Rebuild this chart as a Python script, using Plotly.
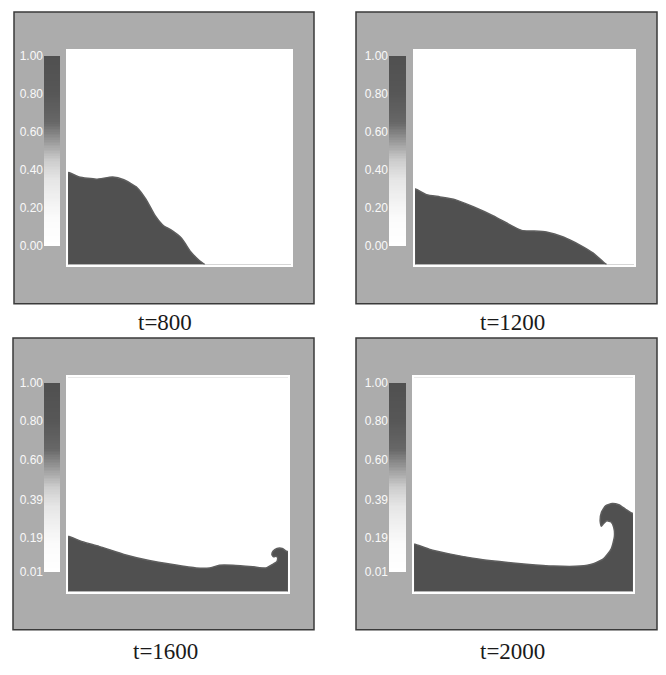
import plotly.graph_objects as go
import numpy as np

W, H = 666, 675

# ---------------- data ----------------
panel_titles = ["t=800", "t=1200", "t=1600", "t=2000"]

# free-surface outlines (fraction of tank width / height), fluid lies below
surf_x_t800 = [0.0, 0.0, 0.007, 0.05, 0.127, 0.20, 0.25, 0.31, 0.35, 0.39, 0.43, 0.46, 0.51, 0.55, 0.59, 0.614, 0.614]
surf_y_t800 = [0.0, 0.43, 0.43, 0.41, 0.40, 0.41, 0.397, 0.36, 0.305, 0.23, 0.18, 0.163, 0.122, 0.06, 0.018, 0.0, 0.0]

surf_x_t1200 = [0.0, 0.0, 0.005, 0.053, 0.114, 0.183, 0.266, 0.358, 0.434, 0.487, 0.540, 0.60, 0.677, 0.753, 0.814, 0.86, 0.875, 0.875]
surf_y_t1200 = [0.0, 0.353, 0.353, 0.327, 0.317, 0.304, 0.271, 0.228, 0.186, 0.160, 0.157, 0.152, 0.129, 0.091, 0.053, 0.012, 0.0, 0.0]

surf_x_t1600 = [0.0, 0.0, 0.005, 0.065, 0.141, 0.263, 0.369, 0.476, 0.582, 0.643, 0.688, 0.749, 0.84, 0.90,
                0.929, 0.950, 0.953, 0.945, 0.935, 0.927, 0.932, 0.950, 0.974, 0.995, 1.0, 1.0, 1.0]
surf_y_t1600 = [0.0, 0.257, 0.257, 0.233, 0.211, 0.171, 0.145, 0.126, 0.110, 0.110, 0.123, 0.123, 0.116, 0.110,
                0.126, 0.141, 0.158, 0.165, 0.162, 0.172, 0.188, 0.201, 0.201, 0.187, 0.187, 0.0, 0.0]

surf_x_t2000 = [0.0, 0.0, 0.005, 0.069, 0.161, 0.268, 0.39, 0.513, 0.636, 0.758, 0.819, 0.865, 0.900, 0.915,
                0.912, 0.900, 0.880, 0.866, 0.855, 0.850, 0.856, 0.875, 0.905, 0.935, 0.965, 0.99, 1.0, 1.0, 1.0]
surf_y_t2000 = [0.0, 0.221, 0.221, 0.198, 0.176, 0.156, 0.140, 0.128, 0.119, 0.119, 0.130, 0.153, 0.198, 0.255,
                0.300, 0.325, 0.330, 0.318, 0.305, 0.330, 0.370, 0.400, 0.411, 0.405, 0.385, 0.368, 0.363, 0.0, 0.0]

cb_labels_top = ["0.00", "0.20", "0.40", "0.60", "0.80", "1.00"]
cb_labels_bottom = ["0.01", "0.19", "0.39", "0.60", "0.80", "1.00"]

surfaces = [(surf_x_t800, surf_y_t800), (surf_x_t1200, surf_y_t1200),
            (surf_x_t1600, surf_y_t1600), (surf_x_t2000, surf_y_t2000)]
cb_labels = [cb_labels_top, cb_labels_top, cb_labels_bottom, cb_labels_bottom]

# ---------------- layout geometry (pixels) ----------------
geo = [
    dict(frame=(14, 314, 5, 303), plot=(68, 291, 45, 263), cb=(44, 60, 50, 244), title=(165, 322)),
    dict(frame=(356, 657, 5, 303), plot=(415, 634, 45, 263), cb=(389, 406, 50, 244), title=(512, 322)),
    dict(frame=(13, 314, 338, 636), plot=(68, 288, 378, 597), cb=(44, 60, 384, 577), title=(165, 658)),
    dict(frame=(356, 657, 338, 636), plot=(414, 633, 378, 597), cb=(389, 406, 384, 577), title=(512, 658)),
]

def px(x):
    return x / W

def py(y):
    return 1 - y / H

FLUID = "#505050"
FRAME = "#acacac"
colorscale = [[0.0, "#ffffff"], [0.15, "#fbfbfb"], [0.35, "#e6e6e6"], [0.45, "#cdcdcd"],
              [0.55, "#9a9a9a"], [0.65, "#676767"], [0.8, "#575757"], [1.0, FLUID]]

fig = go.Figure()
layout = dict(width=W, height=H, margin=dict(l=0, r=0, t=0, b=0),
              paper_bgcolor="white", plot_bgcolor="white", showlegend=False)
shapes, annotations = [], []

for i, g in enumerate(geo):
    ka = i + 1
    kc = i + 5
    xa, ya = f"x{ka}", f"y{ka}"
    xc, yc = f"x{kc}", f"y{kc}"

    sx, sy = surfaces[i]
    fig.add_trace(go.Scatter(x=sx, y=sy, mode="lines", fill="toself", fillcolor=FLUID,
                             line=dict(color="#5e5e5e", width=1.5, shape="spline", smoothing=0.5),
                             xaxis=xa, yaxis=ya, hoverinfo="skip", cliponaxis=True))

    labels = cb_labels[i]
    vals = [float(t) for t in labels]
    vmin, vmax = vals[0], vals[-1]
    zc = np.linspace(vmin, vmax, 120)
    fig.add_trace(go.Heatmap(x=[0], y=zc, z=[[v] for v in zc], colorscale=colorscale,
                             zmin=vmin, zmax=vmax, showscale=False,
                             xaxis=xc, yaxis=yc, hoverinfo="skip"))

    x0, x1, y0, y1 = g["plot"]
    layout[f"xaxis{ka}"] = dict(domain=[px(x0), px(x1)], range=[0, 1], anchor=ya,
                                showgrid=False, zeroline=False, showticklabels=False,
                                showline=True, mirror=True, linecolor="white", linewidth=2)
    layout[f"yaxis{ka}"] = dict(domain=[py(y1), py(y0)], range=[0, 1], anchor=xa,
                                showgrid=False, zeroline=False, showticklabels=False,
                                showline=True, mirror=True, linecolor="white", linewidth=2)

    c0, c1, d0, d1 = g["cb"]
    layout[f"xaxis{kc}"] = dict(domain=[px(c0), px(c1)], range=[-0.5, 0.5], anchor=yc,
                                showgrid=False, zeroline=False, showticklabels=False, showline=False)
    layout[f"yaxis{kc}"] = dict(domain=[py(d1), py(d0)], range=[vmin, vmax], anchor=xc,
                                showgrid=False, zeroline=False, showline=False, side="left",
                                tickvals=vals, ticktext=labels, ticks="",
                                tickfont=dict(family="Liberation Sans", size=12, color="#f9f9f9"))

    f0, f1, e0, e1 = g["frame"]
    shapes.append(dict(type="rect", xref="paper", yref="paper", layer="below",
                       x0=px(f0), x1=px(f1), y0=py(e1), y1=py(e0),
                       fillcolor=FRAME, line=dict(color="#3a3a3a", width=1.5)))
    shapes.append(dict(type="rect", xref="paper", yref="paper", layer="below",
                       x0=px(x0), x1=px(x1), y0=py(y1), y1=py(y0),
                       fillcolor="white", line=dict(width=0)))

    tx, ty = g["title"]
    annotations.append(dict(text=panel_titles[i], xref="paper", yref="paper",
                            x=px(tx), y=py(ty), showarrow=False, xanchor="center", yanchor="middle",
                            font=dict(family="Liberation Serif", size=23, color="#1a1a1a")))

layout["shapes"] = shapes
layout["annotations"] = annotations
fig.update_layout(**layout)
fig.write_html("out.html")
